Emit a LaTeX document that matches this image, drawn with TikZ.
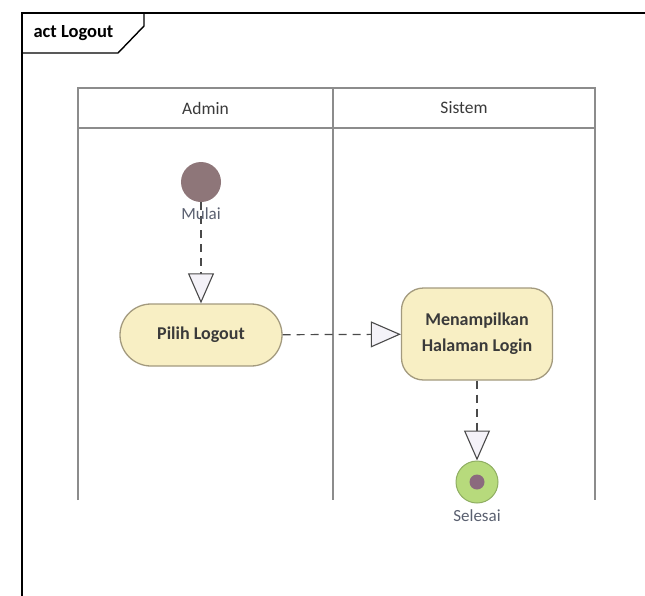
\documentclass[tikz,border=0pt]{standalone}
\usepackage{fontspec}
\setmainfont{Carlito}
\usetikzlibrary{arrows.meta}
\definecolor{lanegrey}{HTML}{8C8C8C}
\definecolor{actfill}{HTML}{F8EFC4}
\definecolor{actdraw}{HTML}{A39A7E}
\definecolor{txt}{HTML}{3A3A3A}
\definecolor{startfill}{HTML}{8E7679}
\definecolor{endgreen}{HTML}{B7DA7C}
\definecolor{endline}{HTML}{8FAE62}
\definecolor{enddot}{HTML}{8B6A7E}
\definecolor{lbl}{HTML}{5A6070}
\definecolor{flowc}{HTML}{4A4A4A}
\definecolor{headfill}{HTML}{F4F2F8}
\tikzset{
  lane/.style={draw=lanegrey, line width=2pt},
  lanehead/.style={text=txt, font=\fontsize{17.5}{20}\selectfont},
  action/.style={draw=actdraw, fill=actfill, line width=1.3pt, text=txt, font=\bfseries\fontsize{18}{26}\selectfont, align=center, inner sep=0pt},
  flow/.style={draw=flowc, line width=1.2pt, dash pattern=on 8pt off 6pt, -{Triangle[length=30pt,width=26pt,fill=headfill,line width=1.1pt,sep=0pt]}},
  tag/.style={text=lbl, font=\fontsize{17}{18}\selectfont},
}
\begin{document}
\begin{tikzpicture}[x=1pt,y=-1pt]
\useasboundingbox (0,0) rectangle (645,595);
\fill[white] (0,0) rectangle (645,595);
% frame
\draw[black, line width=1.4pt] (22,600) -- (22,13) -- (646,13);
\draw[black, line width=1.4pt] (22,53) -- (118,53) -- (144,26) -- (144,13);
\node[anchor=west, text=black, font=\bfseries\fontsize{18.5}{20}\selectfont] (frametitle) at (30,33) {act Logout};
% swimlanes
\draw[lane] (78,500) -- (78,88) -- (595,88) -- (595,500);
\draw[lane] (78,128) -- (595,128);
\draw[lane] (333,88) -- (333,500);
\node[lanehead] (hadmin) at (205.5,108) {Admin};
\node[lanehead] (hsistem) at (464,108) {Sistem};
% nodes
\node[circle, fill=startfill, minimum size=40pt, inner sep=0pt] (start) at (201,182) {};
\node[action, rounded corners=31pt, minimum width=162pt, minimum height=62pt] (pilih) at (201,335) {Pilih Logout};
\node[action, rounded corners=22pt, minimum width=151pt, minimum height=92pt] (tampil) at (477,334) {Menampilkan\\Halaman Login};
\node[circle, fill=endgreen, draw=endline, line width=1pt, minimum size=42pt, inner sep=0pt] (end) at (477,482) {};
\node[circle, fill=enddot, minimum size=15pt, inner sep=0pt] (enddot) at (end.center) {};
% connectors
\draw[flow] (start) -- (pilih);
\draw[flow] (pilih) -- (tampil);
\draw[flow] (tampil) -- (end);
% labels
\node[tag] (mulai) at (201,214) {Mulai};
\node[tag] (selesai) at (477,516) {Selesai};
\end{tikzpicture}
\end{document}
